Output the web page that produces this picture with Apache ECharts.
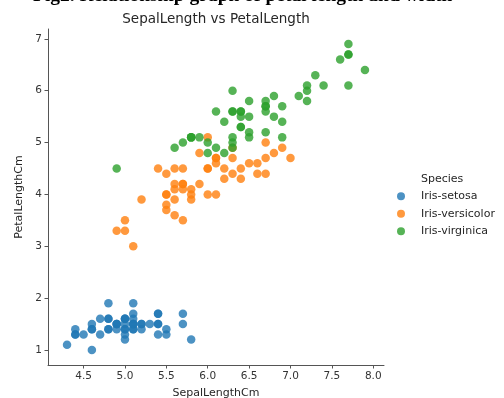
<!DOCTYPE html>
<html>
<head>
<meta charset="utf-8">
<script src="https://cdn.jsdelivr.net/npm/echarts@6/dist/echarts.min.js"></script>
<style>
  html, body { margin: 0; padding: 0; background: #fff; }
  #chart { width: 504px; height: 398px; }
</style>
</head>
<body>
<div id="chart"></div>
<script>
    // 鸢尾花数据：花萼长度 / 花瓣长度
    var species = ['Iris-setosa', 'Iris-versicolor', 'Iris-virginica'];
    var colors = ['#1f77b4', '#ff7f0e', '#2ca02c'];

    var setosaSepal = [5.1, 4.9, 4.7, 4.6, 5.0, 5.4, 4.6, 5.0, 4.4, 4.9, 5.4, 4.8, 4.8, 4.3, 5.8, 5.7, 5.4, 5.1, 5.7, 5.1,
        5.4, 5.1, 4.6, 5.1, 4.8, 5.0, 5.0, 5.2, 5.2, 4.7, 4.8, 5.4, 5.2, 5.5, 4.9, 5.0, 5.5, 4.9, 4.4, 5.1,
        5.0, 4.5, 4.4, 5.0, 5.1, 4.8, 5.1, 4.6, 5.3, 5.0];
    var setosaPetal = [1.4, 1.4, 1.3, 1.5, 1.4, 1.7, 1.4, 1.5, 1.4, 1.5, 1.5, 1.6, 1.4, 1.1, 1.2, 1.5, 1.3, 1.4, 1.7, 1.5,
        1.7, 1.5, 1.0, 1.7, 1.9, 1.6, 1.6, 1.5, 1.4, 1.6, 1.6, 1.5, 1.5, 1.4, 1.5, 1.2, 1.3, 1.5, 1.3, 1.5,
        1.3, 1.3, 1.3, 1.6, 1.9, 1.4, 1.6, 1.4, 1.5, 1.4];

    var versicolorSepal = [7.0, 6.4, 6.9, 5.5, 6.5, 5.7, 6.3, 4.9, 6.6, 5.2, 5.0, 5.9, 6.0, 6.1, 5.6, 6.7, 5.6, 5.8, 6.2, 5.6,
        5.9, 6.1, 6.3, 6.1, 6.4, 6.6, 6.8, 6.7, 6.0, 5.7, 5.5, 5.5, 5.8, 6.0, 5.4, 6.0, 6.7, 6.3, 5.6, 5.5,
        5.5, 6.1, 5.8, 5.0, 5.6, 5.7, 5.7, 6.2, 5.1, 5.7];
    var versicolorPetal = [4.7, 4.5, 4.9, 4.0, 4.6, 4.5, 4.7, 3.3, 4.6, 3.9, 3.5, 4.2, 4.0, 4.7, 3.6, 4.4, 4.5, 4.1, 4.5, 3.9,
        4.8, 4.0, 4.9, 4.7, 4.3, 4.4, 4.8, 5.0, 4.5, 3.5, 3.8, 3.7, 3.9, 5.1, 4.5, 4.5, 4.7, 4.4, 4.1, 4.0,
        4.4, 4.6, 4.0, 3.3, 4.2, 4.2, 4.2, 4.3, 3.0, 4.1];

    var virginicaSepal = [6.3, 5.8, 7.1, 6.3, 6.5, 7.6, 4.9, 7.3, 6.7, 7.2, 6.5, 6.4, 6.8, 5.7, 5.8, 6.4, 6.5, 7.7, 7.7, 6.0,
        6.9, 5.6, 7.7, 6.3, 6.7, 7.2, 6.2, 6.1, 6.4, 7.2, 7.4, 7.9, 6.4, 6.3, 6.1, 7.7, 6.3, 6.4, 6.0, 6.9,
        6.7, 6.9, 5.8, 6.8, 6.7, 6.7, 6.3, 6.5, 6.2, 5.9];
    var virginicaPetal = [6.0, 5.1, 5.9, 5.6, 5.8, 6.6, 4.5, 6.3, 5.8, 6.1, 5.1, 5.3, 5.5, 5.0, 5.1, 5.3, 5.5, 6.7, 6.9, 5.0,
        5.7, 4.9, 6.7, 4.9, 5.7, 6.0, 4.8, 4.9, 5.6, 5.8, 6.1, 6.4, 5.6, 5.1, 5.6, 6.1, 5.6, 5.5, 4.8, 5.4,
        5.6, 5.1, 5.1, 5.9, 5.7, 5.2, 5.0, 5.2, 5.4, 5.1];

    var xTicks = [4.5, 5.0, 5.5, 6.0, 6.5, 7.0, 7.5, 8.0];
    var yTicks = [1, 2, 3, 4, 5, 6, 7];

    function pairs(xs, ys) {
        var out = [];
        for (var i = 0; i < xs.length; i++) {
            out.push([xs[i], ys[i]]);
        }
        return out;
    }

    var seriesData = [
        pairs(setosaSepal, setosaPetal),
        pairs(versicolorSepal, versicolorPetal),
        pairs(virginicaSepal, virginicaPetal)
    ];

    var font = 'DejaVu Sans';
    var chart = echarts.init(document.getElementById('chart'));

    var option = {
        animation: false,
        backgroundColor: '#fff',
        grid: {
            left: 48,
            right: 120,
            top: 29,
            bottom: 33,
            containLabel: false,
            outerBoundsMode: 'none'
        },
        title: {
            text: 'SepalLength vs PetalLength',
            left: 211,
            top: 7,
            textAlign: 'center',
            textStyle: {
                fontFamily: font,
                fontSize: 13.5,
                fontWeight: 'normal',
                color: '#262626'
            }
        },
        graphic: [{
            // 上方被裁掉的标题
            type: 'text',
            x: 33,
            y: 6,
            style: {
                text: 'Fig2. Relationship graph of petal length and width',
                font: 'bold 19.5px "Liberation Serif"',
                fill: '#000',
                verticalAlign: 'bottom'
            }
        }, {
            type: 'text',
            left: 421,
            top: 174,
            style: {
                text: 'Species',
                font: '11px "DejaVu Sans"',
                fill: '#262626'
            }
        }],
        legend: {
            orient: 'vertical',
            left: 392,
            top: 185,
            icon: 'circle',
            itemWidth: 30,
            itemHeight: 8,
            itemGap: 5,
            textStyle: {
                fontFamily: font,
                fontSize: 11,
                lineHeight: 12.5,
                color: '#262626'
            },
            data: species
        },
        xAxis: {
            type: 'value',
            min: 4.07,
            max: 8.13,
            name: 'SepalLengthCm',
            nameLocation: 'middle',
            nameGap: 23,
            nameTextStyle: { fontFamily: font, fontSize: 11, color: '#262626' },
            splitLine: { show: false },
            axisLine: { show: true, lineStyle: { color: '#555', width: 1 } },
            axisTick: {
                show: true,
                length: 3.5,
                lineStyle: { color: '#555' },
                customValues: xTicks
            },
            axisLabel: {
                fontFamily: font,
                fontSize: 10.5,
                color: '#333',
                margin: 6,
                customValues: xTicks,
                formatter: function (v) { return v.toFixed(1); }
            }
        },
        yAxis: {
            type: 'value',
            min: 0.71,
            max: 7.19,
            name: 'PetalLengthCm',
            nameLocation: 'middle',
            nameGap: 21,
            nameTextStyle: { fontFamily: font, fontSize: 11, color: '#262626' },
            splitLine: { show: false },
            axisLine: { show: true, lineStyle: { color: '#555', width: 1 } },
            axisTick: {
                show: true,
                length: 3.5,
                lineStyle: { color: '#555' },
                customValues: yTicks
            },
            axisLabel: {
                fontFamily: font,
                fontSize: 10.5,
                color: '#333',
                margin: 6,
                customValues: yTicks
            }
        },
        series: species.map(function (name, i) {
            return {
                name: name,
                type: 'scatter',
                symbol: 'circle',
                symbolSize: 8.5,
                data: seriesData[i],
                itemStyle: {
                    color: colors[i],
                    opacity: 0.8
                },
                emphasis: { disabled: true }
            };
        })
    };

    chart.setOption(option);
</script>
</body>
</html>
